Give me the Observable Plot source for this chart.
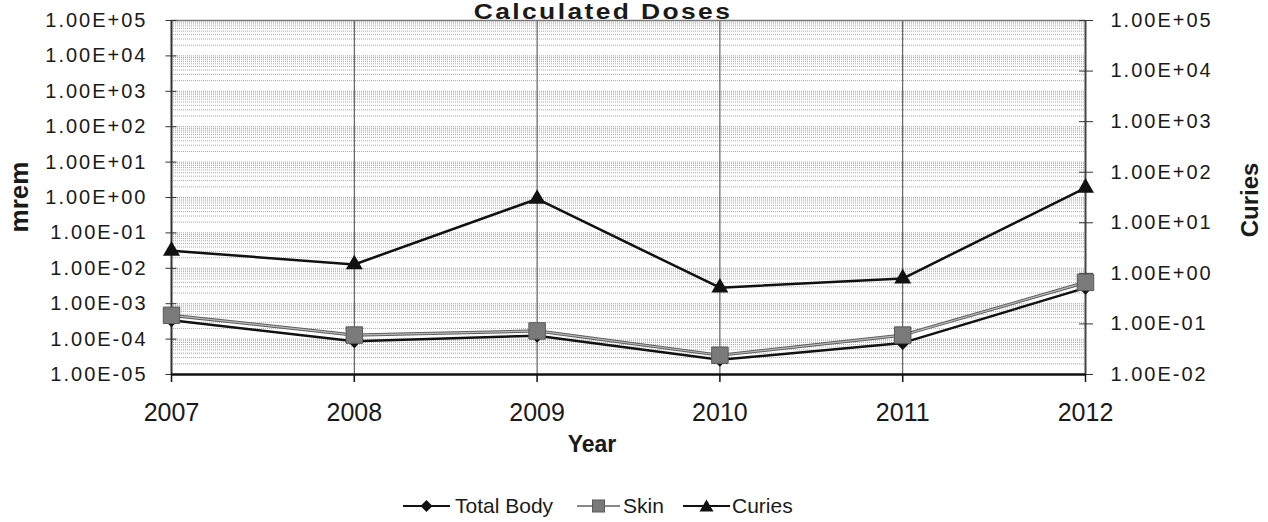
<!DOCTYPE html>
<html><head><meta charset="utf-8">
<script src="https://cdn.jsdelivr.net/npm/d3@7"></script>
<script src="https://cdn.jsdelivr.net/npm/@observablehq/plot@0.6"></script>
<style>
body{margin:0;background:#fff;width:1268px;height:522px;overflow:hidden;position:relative;font-family:"Liberation Sans",Arial,sans-serif;color:#1a1a1a}
.abs{position:absolute;white-space:nowrap;line-height:1}
.bold{font-weight:bold}
#chart svg [aria-label="y-axis tick label"] text{letter-spacing:2px}
</style></head><body>
<div id="chart" class="abs" style="left:0;top:0"></div>
<div class="abs bold" style="left:603px;top:1.3px;transform:translateX(-50%) scaleX(1.2);font-size:22px;letter-spacing:2px">Calculated Doses</div>
<div class="abs bold" style="left:18.5px;top:197px;transform:translate(-50%,-50%) rotate(-90deg);font-size:26px">mrem</div>
<div class="abs bold" style="left:1250px;top:200px;transform:translate(-50%,-50%) rotate(-90deg);font-size:24px">Curies</div>
<div class="abs bold" style="left:592px;top:432.5px;transform:translateX(-50%);font-size:23px">Year</div>
<div id="legend"></div>
<script>
// ---- data ----
const years = [2007, 2008, 2009, 2010, 2011, 2012];
const totalBody = [3.4e-4, 8.7e-5, 1.25e-4, 2.6e-5, 7.8e-5, 2.8e-3];   // mrem
const skin = [4.7e-4, 1.3e-4, 1.7e-4, 3.5e-5, 1.3e-4, 4.0e-3];        // mrem
const curies = [2.8, 1.5, 29.6, 0.52, 0.79, 49];                       // Curies
const leftExponents = [-5, -4, -3, -2, -1, 0, 1, 2, 3, 4, 5];
const rightExponents = [-2, -1, 0, 1, 2, 3, 4, 5];
const seriesNames = ["Total Body", "Skin", "Curies"];

// right axis (Curies, 1e-2..1e5) mapped onto left log scale (1e-5..1e5)
const toLeft = c => Math.pow(10, -5 + (Math.log10(c) + 2) * 10 / 7);
const fromLeftExp = v => Math.round((Math.log10(v) + 5) * 0.7 - 2);
const fmt = e => "1.00E" + (e < 0 ? "-" : "+") + String(Math.abs(e)).padStart(2, "0");

const rows = years.map((year, i) => ({year, tb: totalBody[i], skin: skin[i], cur: toLeft(curies[i])}));
const leftVals = leftExponents.map(e => Math.pow(10, e));
const rightVals = rightExponents.map(e => toLeft(Math.pow(10, e)));
const minor = [];
for (let e = -5; e < 5; e++) for (let m = 1; m <= 9; m++) minor.push(m * Math.pow(10, e));

const chart = Plot.plot({
  width: 1268, height: 460,
  marginTop: 20, marginBottom: 86, marginLeft: 171, marginRight: 183,
  style: {fontFamily: "'Liberation Sans', Arial, sans-serif", color: "#1a1a1a", background: "transparent", overflow: "visible"},
  x: {domain: [2007, 2012], label: null},
  y: {type: "log", domain: [1e-5, 1e5], label: null},
  marks: [
    Plot.ruleY(minor, {stroke: "#a8a8a8", strokeDasharray: "1,1", strokeWidth: 1}),
    Plot.ruleX(years, {stroke: "#444", strokeWidth: 1}),
    Plot.ruleY([1e5], {stroke: "#777", strokeWidth: 1.5}),
    Plot.ruleX([2007], {stroke: "#333", strokeWidth: 2}),
    Plot.ruleX([2012], {stroke: "#444", strokeWidth: 2}),
    // left axis
    Plot.axisY(leftVals, {anchor: "left", tickSize: 11, dx: 5.5, tickFormat: () => "", stroke: "#333"}),
    Plot.axisY(leftVals, {anchor: "left", tickSize: 0, tickPadding: 24, fontSize: 20, tickFormat: d => fmt(Math.round(Math.log10(d)))}),
    // right axis
    Plot.axisY(rightVals, {anchor: "right", tickSize: 14, dx: -7, tickFormat: () => "", stroke: "#333"}),
    Plot.axisY(rightVals, {anchor: "right", tickSize: 0, tickPadding: 25, fontSize: 20, tickFormat: d => fmt(fromLeftExp(d))}),
    // x axis
    Plot.axisX(years, {tickSize: 8, tickPadding: 21, fontSize: 25, tickFormat: d => String(d), stroke: "#111", strokeWidth: 1.5}),
    Plot.ruleY([1e-5], {stroke: "#111", strokeWidth: 2.5}),
    // series
    Plot.line(rows, {x: "year", y: "tb", stroke: "#111", strokeWidth: 2.5}),
    Plot.dot(rows, {x: "year", y: "tb", symbol: "diamond2", r: 6.3, fill: "#111", stroke: "none"}),
    Plot.line(rows, {x: "year", y: "skin", stroke: "#5e5e5e", strokeWidth: 3.2}),
    Plot.line(rows, {x: "year", y: "skin", stroke: "#b8b8b8", strokeWidth: 1.2}),
    Plot.dot(rows, {x: "year", y: "skin", symbol: "square", r: 9.3, fill: "#7a7a7a", stroke: "#5a5a5a", strokeWidth: 1}),
    Plot.line(rows, {x: "year", y: "cur", stroke: "#111", strokeWidth: 2.5}),
    Plot.dot(rows, {x: "year", y: "cur", symbol: "triangle", r: 6.3, fill: "#111", stroke: "none"})
  ]
});
document.getElementById("chart").appendChild(chart);

// ---- legend ----
const legend = document.getElementById("legend");
const items = [
  {name: seriesNames[0], lx: 403, lw: 47, tx: 455, stroke: "#111", sw: 2,
   sym: c => `<path d="M${c} 5 L${c + 6} 11 L${c} 17 L${c - 6} 11 Z" fill="#111"/>`},
  {name: seriesNames[1], lx: 577, lw: 43, tx: 623, stroke: "#8a8a8a", sw: 1.8,
   sym: c => `<rect x="${c - 6}" y="5" width="12" height="12" fill="#7a7a7a" stroke="#5a5a5a"/>`},
  {name: seriesNames[2], lx: 683, lw: 47, tx: 732, stroke: "#111", sw: 2,
   sym: c => `<path d="M${c} 4.5 L${c + 7} 16.5 L${c - 7} 16.5 Z" fill="#111"/>`}
];
for (const it of items) {
  const s = document.createElement("div");
  s.className = "abs";
  s.style.left = it.lx + "px"; s.style.top = "494.5px";
  s.innerHTML = `<svg width="${it.lw}" height="22" style="display:block"><line x1="0" x2="${it.lw}" y1="11" y2="11" stroke="${it.stroke}" stroke-width="${it.sw}"/>${it.sym(it.lw / 2)}</svg>`;
  legend.appendChild(s);
  const t = document.createElement("div");
  t.className = "abs";
  t.style.left = it.tx + "px"; t.style.top = "495px"; t.style.fontSize = "21px";
  t.textContent = it.name;
  legend.appendChild(t);
}
</script>
</body></html>
